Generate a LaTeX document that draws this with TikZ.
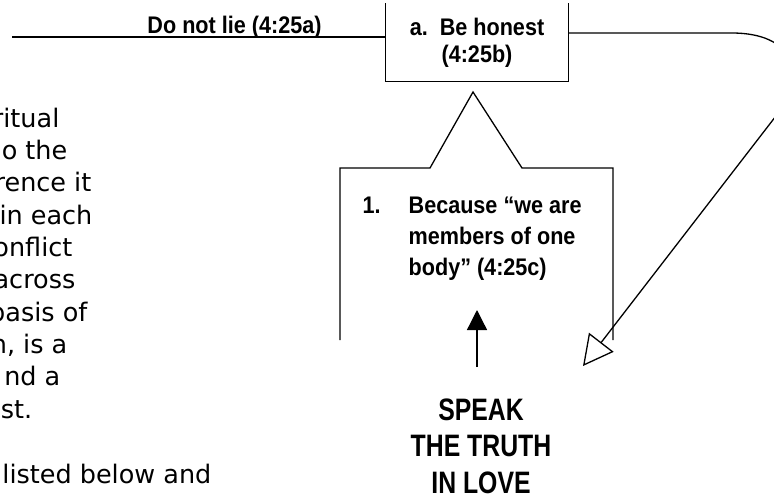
\documentclass[tikz,border=0pt]{standalone}
\usepackage{fontspec}
\usepackage{tikz}
\usetikzlibrary{arrows.meta}
\setmainfont{DejaVu Sans}
\newfontfamily\narrowfont[FakeStretch=0.9]{Liberation Sans}
\newfontfamily\bignarrow[FakeStretch=0.8]{Liberation Sans}

\begin{document}
\begin{tikzpicture}[x=1pt,y=-1pt,line width=1.3pt,
    label/.style={font=\narrowfont\bfseries\fontsize{24}{27}\selectfont,inner sep=0pt,align=center},
    bigtext/.style={font=\bignarrow\bfseries\fontsize{31}{36.5}\selectfont,inner sep=0pt,align=center},
    bodytext/.style={font=\fontsize{25.5}{32}\selectfont,inner sep=0pt,anchor=base east},
    openhead/.style={-{Triangle[open,length=30pt,width=31pt]}},
    fillhead/.style={-{Triangle[length=20pt,width=20pt]}}]
  \fill[white] (0,0) rectangle (774,499);
  \useasboundingbox (0,0) rectangle (774,499);
  \clip (0,0) rectangle (774,499);
  % text running in from the left edge
  \foreach \x/\y/\words in {60/127/ritual, 68/159.4/o the, 92/191.7/rence it, 93/224.1/in each,
      73/256.5/onflict, 76/288.8/across, 88/321.2/basis of, 68/353.5/{n, is a}, 61/385.9/nd a,
      33/418.3/st., 212/483/listed below and}
    \node[bodytext] at (\x,\y) {\words};
  % nodes
  \node[label,minimum width=182pt,minimum height=77pt] (honest) at (477,42.5) {a.\ \ Be honest\\(4:25b)};
  \node[label,anchor=base] (lie) at (234.5,33) {Do not lie (4:25a)};
  \node[label,anchor=north west] (because) at (362,191.3)
    {\fontsize{24}{31}\selectfont\begin{tabular}{@{}l@{\hspace{28pt}}l@{}}1.&Because “we are\\&members of one\\&body” (4:25c)\end{tabular}};
  \node[bigtext,anchor=north] (speak) at (481,398) {SPEAK\\THE TRUTH\\IN LOVE};
  \coordinate (lieStart) at (12,37);
  \coordinate (apex) at (473,92);
  \coordinate (bendTop) at (840,33);
  \coordinate (openTip) at (583,366);
  \coordinate (truthTip) at (477,310);
  % box and callout outlines
  \draw (lieStart) -- (lieStart -| honest.west);
  \draw (honest.north west) |- (honest.south east) -- (honest.north east);
  \draw (340,340) |- (430,168) -- (apex) -- (522,168) -| (613,340);
  % arrows
  \draw[fillhead] ([xshift=-4pt,yshift=31pt]speak.north) -- (truthTip);
  \draw[openhead,rounded corners=108pt] (honest.east |- bendTop) -- (bendTop) -- (openTip);
\end{tikzpicture}
\end{document}
